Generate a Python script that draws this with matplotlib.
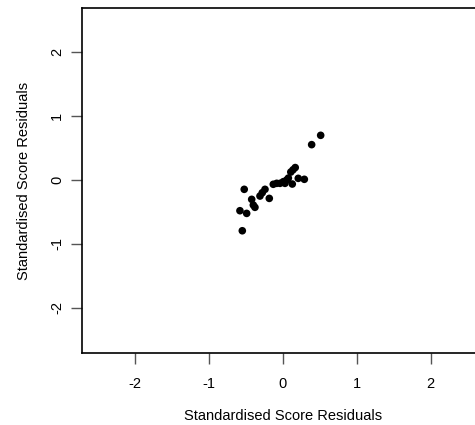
import matplotlib
matplotlib.use("Agg")
from matplotlib import pyplot as plt

# Residual pairs
resid_x = [0.514, 0.392, 0.170, 0.140, 0.110, 0.293, 0.211, 0.130, 0.077,
           0.054, 0.031, 0.009, -0.036, -0.081, -0.127, -0.520, -0.239,
           -0.276, -0.307, -0.181, -0.419, -0.397, -0.375, -0.578, -0.487,
           -0.546]
resid_y = [0.700, 0.554, 0.195, 0.160, 0.125, 0.011, 0.026, -0.063, 0.030,
           0.000, -0.052, -0.026, -0.052, -0.052, -0.067, -0.146, -0.146,
           -0.199, -0.251, -0.288, -0.303, -0.392, -0.428, -0.481, -0.523,
           -0.795]
ticks = [-2, -1, 0, 1, 2]

plt.rcParams['font.family'] = ['Liberation Sans', 'DejaVu Sans']

fig = plt.figure(figsize=(4.75, 4.25), dpi=100)
# the right edge of the box sits just past the image, as in the reference
ax = fig.add_axes([0.1733, 0.1694, 0.8436, 0.8111])

ax.scatter(resid_x, resid_y, s=30, color='black', edgecolors='none')

ax.set_xlim(-2.71, 2.71)
ax.set_ylim(-2.71, 2.69)
ax.set_xticks(ticks)
ax.set_yticks(ticks)
ax.set_xticklabels([str(t) for t in ticks])
ax.set_yticklabels([str(t) for t in ticks], rotation=90, va='center')

for sp in ax.spines.values():
    sp.set_linewidth(1.2)
ax.tick_params(direction='out', length=8, width=1, color='#555555',
               labelsize=10.5, pad=9)
ax.tick_params(axis='y', pad=5)

ax.set_xlabel('Standardised Score Residuals', fontsize=10.5, labelpad=13)
ax.set_ylabel('Standardised Score Residuals', fontsize=10.5, labelpad=14)

fig.savefig('out.png', dpi=100)
